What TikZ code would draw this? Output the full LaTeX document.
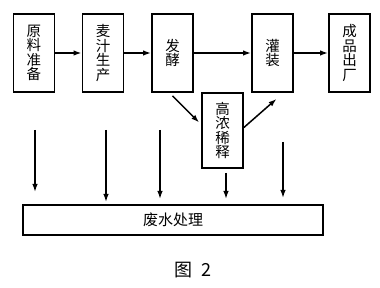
\documentclass[tikz,border=0pt]{standalone}
\usepackage{fontspec}
\setmainfont{Noto Sans CJK SC}
\usetikzlibrary{arrows.meta,calc}
\begin{document}
\begin{tikzpicture}[x=1pt,y=-1pt,
  stepbox/.style={draw,line width=1.8pt,minimum width=41pt,minimum height=78pt,
    inner sep=0pt,align=center,font=\fontsize{14.5}{14.5}\selectfont},
  flow/.style={line width=1.5pt,-{Latex[length=8pt,width=5.5pt]}}]
\useasboundingbox (0,0) rectangle (380,288);

\node[stepbox] (yl) at (34,53) {原\\料\\准\\备};
\node[stepbox] (mz) at (103,53) {麦\\汁\\生\\产};
\node[stepbox] (fj) at (172.5,53) {发\\酵};
\node[stepbox] (gz) at (272.5,53) {灌\\装};
\node[stepbox] (cp) at (349.5,53) {成\\品\\出\\厂};
\node[stepbox,minimum height=75pt] (xs) at (222.5,130.5) {高\\浓\\稀\\释};
\node[draw,line width=1.8pt,minimum width=300pt,minimum height=30pt,inner sep=0pt,
  font=\fontsize{15}{15}\selectfont] (fs) at (173,220) {废水处理};
\node[font=\fontsize{18}{18}\selectfont] (cap) at (193,270) {图\hspace{10pt}2};

\draw[flow] (yl) -- (mz);
\draw[flow] (mz) -- (fj);
\draw[flow] (fj) -- (gz);
\draw[flow] (gz) -- (cp);

% dilution branch
\draw[flow] ($(fj.south)+(0,3)$) -- ($(xs.west)+(-2,-8)$);
\draw[flow] ($(xs.east)+(0,-3)$) -- ($(gz.south)+(4,6)$);

% waste water
\coordinate (w1a) at (35,130);  \coordinate (w1b) at (35,192);
\coordinate (w2a) at (106,130); \coordinate (w2b) at (106,202);
\coordinate (w3a) at (160,130); \coordinate (w3b) at (160,199);
\coordinate (w4a) at (226,173); \coordinate (w4b) at (226,199);
\coordinate (w5a) at (283,142); \coordinate (w5b) at (283,198);
\foreach \i in {1,...,5}
  \draw[flow] (w\i a) -- (w\i b);
\end{tikzpicture}
\end{document}
